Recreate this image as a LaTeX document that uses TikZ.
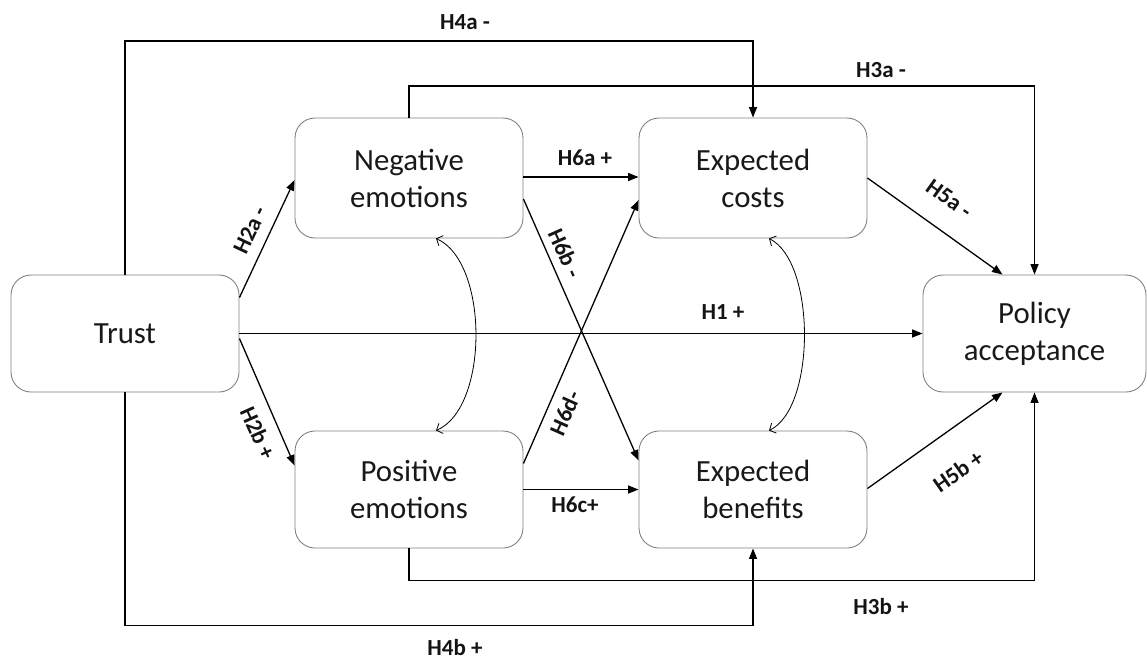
\documentclass[tikz,border=0pt]{standalone}
\usepackage{fontspec}
\setmainfont{Carlito}
\usetikzlibrary{arrows.meta,calc}
\begin{document}
\begin{tikzpicture}[x=1pt,y=-1pt,
  box/.style={draw=black!50, line width=0.9pt, rounded corners=20pt, minimum width=228pt,
    minimum height=118pt, align=center, font=\fontsize{30.8}{37}\selectfont, inner sep=0pt, text=black!90},
  lab/.style={font=\bfseries\fontsize{23}{26}\selectfont, inner sep=0pt, text=black!92},
  arr/.style={line width=1.3pt, -{Triangle[length=10.5pt,width=8pt]}},
  corr/.style={line width=0.8pt, {Straight Barb[length=5pt,width=11pt]}-{Straight Barb[length=5pt,width=11pt]}}]
\useasboundingbox (0,0) rectangle (1147,663);

\node[box, minimum height=117pt] (trust) at (125,333.5) {Trust};
\node[box, minimum height=120pt] (neg) at (409,178) {Negative\\emotions};
\node[box, minimum height=117pt] (pos) at (409,489.5) {Positive\\emotions};
\node[box, minimum height=120pt] (cost) at (753,178) {Expected\\costs};
\node[box, minimum height=117pt] (ben) at (753,489.5) {Expected\\benefits};
\node[box, minimum width=223pt, minimum height=117pt] (pol) at (1034.5,333.5) {Policy\\acceptance};

\coordinate (t4a) at (125,41);
\coordinate (t3a) at (409,86);
\draw[arr] (trust.north) -- (trust.north |- t4a) -| (cost.north);
\draw[arr] (neg.north) -- (neg.north |- t3a) -| (pol.north);
\draw[arr] (pos.south) -- ++(0,32) -| (pol.south);
\draw[arr] (trust.south) -- ++(0,233) -| (ben.south);
\draw[arr] (trust.east) -- (pol.west);
\draw[arr] ($(trust.east)+(0,-36)$) -- ($(neg.west)+(0,2)$);
\draw[arr] ($(trust.east)+(0,5)$) -- ($(pos.west)+(0,-24)$);
\draw[arr] ($(neg.east)+(0,-1)$) -- ($(cost.west)+(0,-1)$);
\draw[arr] ($(neg.east)+(0,21)$) -- ($(ben.west)+(0,-29)$);
\draw[arr] (pos.east) -- (ben.west);
\draw[arr] ($(pos.east)+(0,-26)$) -- ($(cost.west)+(0,22)$);
\draw[arr] (cost.east) -- ($(pol.north)+(-32,0)$);
\draw[arr] ($(ben.east)+(0,-1)$) -- ($(pol.south)+(-32,0)$);

\draw[corr] ($(neg.south)+(27,0)$) .. controls (489,262) and (489,408) .. ($(pos.north)+(27,0)$);
\draw[corr] ($(cost.south)+(16,0)$) .. controls (816,262) and (816,408) .. ($(ben.north)+(16,0)$);

\node[lab] (l4a) at (465,22) {H4a -};
\node[lab] (l3a) at (881,70) {H3a -};
\node[lab] (l6a) at (585,158) {H6a +};
\node[lab, rotate=64.6] (l2a) at (250,230) {H2a -};
\node[lab, rotate=-66] (l6b) at (565,253) {H6b -};
\node[lab, rotate=-35.5] (l5a) at (949,199) {H5a -};
\node[lab] (l1) at (723,312) {H1 +};
\node[lab, rotate=66] (l6d) at (565,413) {H6d-};
\node[lab, rotate=-66] (l2b) at (258,433) {H2b +};
\node[lab] (l6c) at (575,505) {H6c+};
\node[lab, rotate=35] (l5b) at (958,471) {H5b +};
\node[lab] (l3b) at (881,607) {H3b +};
\node[lab] (l4b) at (455,648) {H4b +};
\end{tikzpicture}
\end{document}
